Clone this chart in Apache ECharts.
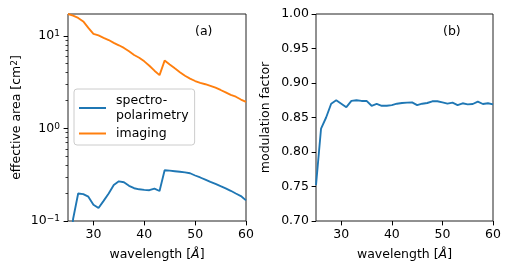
<!DOCTYPE html>
<html><head><meta charset="utf-8">
<script src="https://cdn.jsdelivr.net/npm/echarts@6/dist/echarts.min.js"></script>
<style>html,body{margin:0;padding:0;background:#fff}#c{width:510px;height:273px}</style>
</head><body><div id="c"></div>
<script>
const wavelengths = [25,26,27,28,29,30,31,32,33,34,35,36,37,38,39,40,41,42,43,44,45,46,47,48,49,50,51,52,53,54,55,56,57,58,59,60];
const imaging = [17.2,16.5,15.6,14.3,12.2,10.5,10.1,9.5,9.0,8.4,7.9,7.4,6.8,6.2,5.8,5.3,4.75,4.2,3.76,5.4,4.9,4.45,4.05,3.7,3.45,3.25,3.1,3.0,2.88,2.75,2.6,2.45,2.3,2.2,2.05,1.93];
const spectroPol = [0.03,0.105,0.198,0.195,0.183,0.150,0.138,0.165,0.198,0.245,0.268,0.262,0.240,0.226,0.220,0.217,0.215,0.224,0.211,0.353,0.350,0.345,0.340,0.335,0.328,0.310,0.295,0.280,0.265,0.252,0.238,0.225,0.212,0.198,0.186,0.167];
const modulation = [0.752,0.834,0.850,0.870,0.875,0.870,0.865,0.874,0.875,0.874,0.874,0.867,0.8696,0.867,0.867,0.868,0.870,0.871,0.8715,0.872,0.868,0.870,0.871,0.8735,0.8735,0.872,0.870,0.8715,0.868,0.8706,0.869,0.8696,0.873,0.8696,0.8706,0.869];
const xTicks = [30,40,50,60];
const areaTicks = [0.1,1,10];
const areaMinorTicks = [0.2,0.3,0.4,0.5,0.6,0.7,0.8,0.9,2,3,4,5,6,7,8,9];
const modTicks = [0.70,0.75,0.80,0.85,0.90,0.95,1.00];

const FONT = 'DejaVu Sans';
const FS = 12.5;
const BLUE = '#1f77b4', ORANGE = '#ff7f0e';
const chart = echarts.init(document.getElementById('c'), null, {renderer:'canvas'});

function xAxisCfg(gi){
  return {
    type:'value', gridIndex:gi, min:25, max:60,
    axisLine:{show:false},
    axisTick:{show:true, customValues:xTicks, length:4.4, lineStyle:{color:'#000', width:1}},
    axisLabel:{customValues:xTicks, margin:7, color:'#000', fontFamily:FONT, fontSize:FS},
    splitLine:{show:false},
    name:'wavelength [{i|Å}]', nameLocation:'middle', nameGap:27,
    nameTextStyle:{color:'#000', fontFamily:FONT, fontSize:FS, rich:{i:{fontStyle:'italic', fontFamily:FONT, fontSize:FS, color:'#000'}}}
  };
}

const option = {
  animation:false,
  backgroundColor:'#fff',
  grid:[
    {left:68, top:14, width:178, height:207, show:true, borderColor:'#222', borderWidth:1, backgroundColor:'transparent'},
    {left:316, top:14, width:177, height:207, show:true, borderColor:'#222', borderWidth:1, backgroundColor:'transparent'}
  ],
  xAxis:[xAxisCfg(0), xAxisCfg(1)],
  yAxis:[
    {type:'log', logBase:10, gridIndex:0, min:0.1, max:17.2, position:'left',
     axisLine:{show:false},
     axisTick:{show:true, customValues:areaTicks, length:4.4, lineStyle:{color:'#000', width:1}},
     axisLabel:{customValues:areaTicks, margin:8, color:'#000', fontFamily:FONT, fontSize:FS,
       formatter:function(v){ const e = Math.round(Math.log10(v)); return '{b|10}{s|' + (e<0?'\u2212':'') + Math.abs(e) + '}'; },
       rich:{b:{fontFamily:FONT, fontSize:FS, color:'#000', verticalAlign:'bottom'}, s:{fontFamily:FONT, fontSize:9, color:'#000', verticalAlign:'top'}}},
     splitLine:{show:false},
     name:'effective area [cm{s|2}]', nameLocation:'middle', nameGap:45,
     nameTextStyle:{color:'#000', fontFamily:FONT, fontSize:FS, rich:{s:{fontFamily:FONT, fontSize:9, color:'#000', verticalAlign:'top'}}}
    },
    {type:'log', logBase:10, gridIndex:0, min:0.1, max:17.2, position:'left', offset:0,
     axisLine:{show:false},
     axisTick:{show:true, customValues:areaMinorTicks, length:2.5, lineStyle:{color:'#000', width:0.75}},
     axisLabel:{show:false}, splitLine:{show:false}
    },
    {type:'value', gridIndex:1, min:0.70, max:1.00, interval:0.05,
     axisLine:{show:false},
     axisTick:{show:true, length:4.4, lineStyle:{color:'#000', width:1}},
     axisLabel:{margin:7, color:'#000', fontFamily:FONT, fontSize:FS, formatter:function(v){return v.toFixed(2);}},
     splitLine:{show:false},
     name:'modulation factor', nameLocation:'middle', nameGap:44,
     nameTextStyle:{color:'#000', fontFamily:FONT, fontSize:FS}
    }
  ],
  legend:{
    orient:'vertical', left:74, top:89,
    data:[{name:'spectro-polarimetry', icon:'rect'},{name:'imaging', icon:'rect'}],
    formatter:function(n){ return n === 'spectro-polarimetry' ? 'spectro-\npolarimetry' : n; },
    itemWidth:27, itemHeight:2, itemGap:3,
    padding:[4,6,4,5],
    textStyle:{color:'#000', fontFamily:FONT, fontSize:FS, lineHeight:15, padding:[0,0,0,5]},
    backgroundColor:'rgba(255,255,255,0.8)', borderColor:'#cccccc', borderWidth:1, borderRadius:3
  },
  graphic:[
    {type:'text', left:195, top:25, style:{text:'(a)', fill:'#000', font:FS+'px "DejaVu Sans"'}},
    {type:'text', left:443, top:25, style:{text:'(b)', fill:'#000', font:FS+'px "DejaVu Sans"'}}
  ],
  series:[
    {name:'spectro-polarimetry', type:'line', xAxisIndex:0, yAxisIndex:0, symbol:'none', showSymbol:false,
     lineStyle:{color:BLUE, width:1.875}, itemStyle:{color:BLUE},
     data:wavelengths.map((w,i)=>[w, spectroPol[i]])},
    {name:'imaging', type:'line', xAxisIndex:0, yAxisIndex:0, symbol:'none', showSymbol:false,
     lineStyle:{color:ORANGE, width:1.875}, itemStyle:{color:ORANGE},
     data:wavelengths.map((w,i)=>[w, imaging[i]])},
    {name:'modulation', type:'line', xAxisIndex:1, yAxisIndex:2, symbol:'none', showSymbol:false,
     lineStyle:{color:BLUE, width:1.875}, itemStyle:{color:BLUE},
     data:wavelengths.map((w,i)=>[w, modulation[i]])}
  ]
};
chart.setOption(option);
</script></body></html>
